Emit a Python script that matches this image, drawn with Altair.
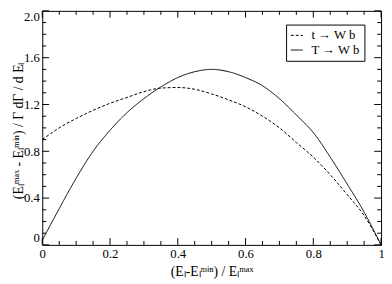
import altair as alt
import pandas as pd

# ---- data ----
x_vals = [0.00, 0.05, 0.10, 0.15, 0.20, 0.25, 0.30, 0.35, 0.40, 0.45, 0.50,
          0.55, 0.60, 0.65, 0.70, 0.75, 0.80, 0.85, 0.90, 0.95, 1.00]
t_wb = [0.90, 1.00, 1.08, 1.15, 1.21, 1.26, 1.31, 1.34, 1.345, 1.33, 1.29,
        1.24, 1.18, 1.10, 1.00, 0.875, 0.75, 0.60, 0.43, 0.25, 0.00]
T_wb = [0.04, 0.31, 0.57, 0.80, 0.98, 1.13, 1.25, 1.35, 1.43, 1.48, 1.50,
        1.48, 1.43, 1.36, 1.25, 1.11, 0.96, 0.75, 0.52, 0.28, 0.00]
series_names = ["t → W b", "T → W b"]

x_major = [0.0, 0.2, 0.4, 0.6, 0.8, 1.0]
x_minor = [0.05, 0.1, 0.15, 0.25, 0.3, 0.35, 0.45, 0.5, 0.55, 0.65, 0.7, 0.75, 0.85, 0.9, 0.95]
y_major = [0.0, 0.4, 0.8, 1.2, 1.6, 2.0]
y_minor = [0.1, 0.2, 0.3, 0.5, 0.6, 0.7, 0.9, 1.0, 1.1, 1.3, 1.4, 1.5, 1.7, 1.8, 1.9]

x_title = "(Eₗ-Eₗᵐⁱⁿ) /  Eₗᵐᵃˣ"
y_title = "(Eₗᵐᵃˣ - Eₗᵐⁱⁿ) / Γ dΓ / d Eₗ"

W, H = 346, 239
FONT = "Liberation Serif, Times New Roman, serif"
MAJ, MIN = 7, 4

df = pd.concat([
    pd.DataFrame({"x": x_vals, "y": t_wb, "s": series_names[0]}),
    pd.DataFrame({"x": x_vals, "y": T_wb, "s": series_names[1]}),
])

xscale = alt.Scale(domain=[0, 1], nice=False, zero=False)
yscale = alt.Scale(domain=[0, 2], nice=False, zero=False)

xaxis = alt.Axis(values=x_major, ticks=False, domain=False, grid=False,
                 labelExpr="datum.value == 0 || datum.value == 1 ? format(datum.value, 'd') : format(datum.value, '.1f')",
                 labelFont=FONT, labelFontSize=13, labelColor="black", labelPadding=3,
                 labelFlush=False,
                 title=x_title, titleFont=FONT, titleFontSize=14, titleFontWeight="normal",
                 titleColor="black", titleY=31, titleBaseline="alphabetic")
yaxis = alt.Axis(values=y_major, ticks=False, domain=False, grid=False,
                 labelExpr="datum.value == 0 ? '0' : format(datum.value, '.1f')",
                 labelFont=FONT, labelFontSize=13, labelColor="black", labelPadding=3,
                 labelFlush=True,
                 title=y_title, titleFont=FONT, titleFontSize=14, titleFontWeight="normal",
                 titleColor="black", titleAngle=270, titleX=-20, titleY=122,
                 titleAlign="center", titleBaseline="alphabetic")

lines = alt.Chart(df).mark_line(color="black", strokeWidth=1, interpolate="monotone").encode(
    x=alt.X("x:Q", scale=xscale, axis=xaxis),
    y=alt.Y("y:Q", scale=yscale, axis=yaxis),
    strokeDash=alt.StrokeDash("s:N", scale=alt.Scale(domain=series_names, range=[[3, 2], [1, 0]]),
                              legend=alt.Legend(title=None, orient="none", legendX=249, legendY=14,
                                                strokeColor="black", padding=4, fillColor="white",
                                                labelFont=FONT, labelFontSize=13, labelColor="black",
                                                symbolType="stroke", symbolStrokeColor="black",
                                                symbolStrokeWidth=1, symbolSize=150, rowPadding=1,
                                                labelOffset=8)),
)


def xticks(vals, length):
    d = pd.DataFrame({"x": vals})
    base = alt.Chart(d).mark_rule(color="black", strokeWidth=1)
    bottom = base.encode(x=alt.X("x:Q", scale=xscale, axis=xaxis), y=alt.value(H), y2=alt.value(H - length))
    top = base.encode(x=alt.X("x:Q", scale=xscale, axis=xaxis), y=alt.value(0), y2=alt.value(length))
    return [bottom, top]


def yticks(vals, length):
    d = pd.DataFrame({"y": vals})
    base = alt.Chart(d).mark_rule(color="black", strokeWidth=1)
    left = base.encode(y=alt.Y("y:Q", scale=yscale, axis=yaxis), x=alt.value(0), x2=alt.value(length))
    right = base.encode(y=alt.Y("y:Q", scale=yscale, axis=yaxis), x=alt.value(W), x2=alt.value(W - length))
    return [left, right]


layers = [lines] + xticks(x_major, MAJ) + xticks(x_minor, MIN) + yticks(y_major, MAJ) + yticks(y_minor, MIN)

chart = alt.layer(*layers).properties(
    width=W, height=H,
    autosize=alt.AutoSizeParams(type="none"),
    padding={"left": 35, "top": 0, "right": 3, "bottom": 37},
    background="white",
).configure_view(stroke="black", strokeWidth=1)

chart.save("out.html", embed_options={"renderer": "svg", "actions": False})
